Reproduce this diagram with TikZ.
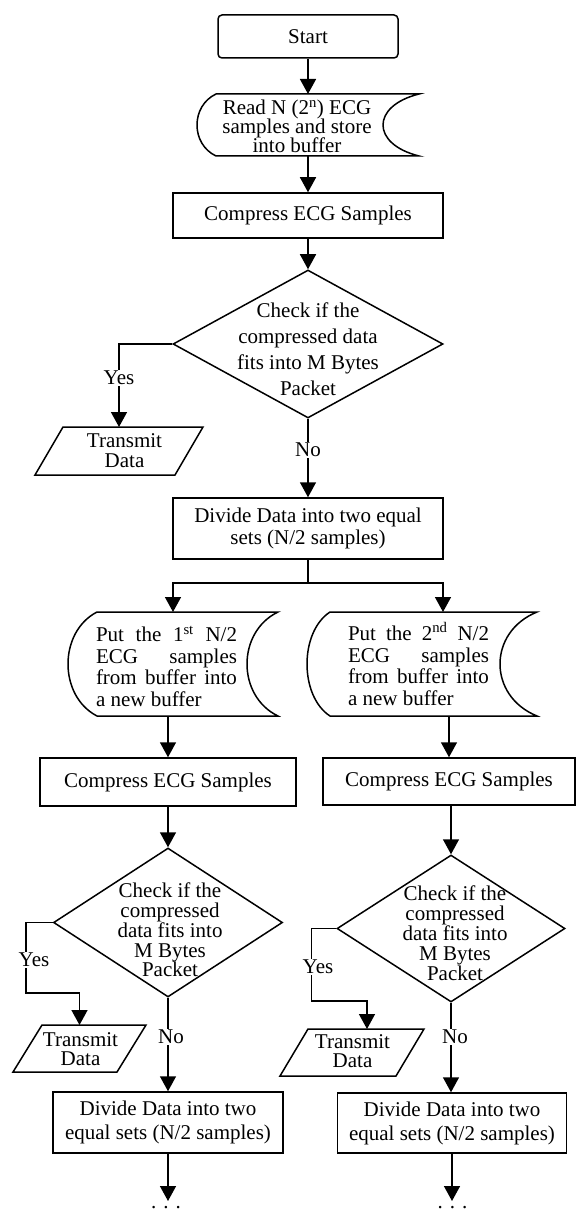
\documentclass[tikz,border=0pt]{standalone}
\usepackage{fontspec}
\setmainfont{Liberation Serif}
\usetikzlibrary{shapes.geometric,arrows.meta,calc}
\newcommand\tf[1]{\fontsize{21}{#1}\selectfont\lineskiplimit=-30pt\relax}
% stored-data outline around a ghost node: #1 name, #2 left bulge, #3 right concave depth, #4 corner slope
\newcommand\storedshape[4]{%
  \draw[ln] ($(#1.north west)+(#2,0)$) -- (#1.north east)
    .. controls ($(#1.north east)+({-4*#3/3},#4)$) and ($(#1.south east)+({-4*#3/3},-#4)$) .. (#1.south east)
    -- ($(#1.south west)+(#2,0)$)
    .. controls ($(#1.south west)+({-#2/3},-#4)$) and ($(#1.north west)+({-#2/3},#4)$) .. ($(#1.north west)+(#2,0)$)
    -- cycle;}
% parallelogram outline around a ghost node: #1 name, #2 slant
\newcommand\paraout[2]{%
  \draw[ln] ($(#1.north west)+(#2,0)$) -- (#1.north east) -- ($(#1.south east)+(-#2,0)$) -- (#1.south west) -- cycle;}
\tikzset{
  ln/.style={line width=1.5pt},
  arr/.style={line width=1.5pt,-{Triangle[width=16pt,length=15pt]}},
  box/.style={draw,line width=1.5pt,rectangle,inner sep=0pt,align=center,font=\tf{23}},
  ghost/.style={draw=none,inner sep=0pt,outer sep=0pt,rectangle},
  dia/.style={diamond,draw,line width=1.5pt,inner sep=0pt},
  txt/.style={inner sep=0pt,align=center,font=\tf{#1}},
  lbl/.style={inner sep=1pt,fill=white,font=\tf{23}},
}
\begin{document}
\begin{tikzpicture}[x=1pt,y=-1pt]
\useasboundingbox (0,0) rectangle (575,1214);

% ---------- top part ----------
\node[box,rounded corners=4pt,minimum width=180pt,minimum height=43pt] (start) at (308,36.5) {Start};

\node[ghost,minimum width=222pt,minimum height=62pt] (read) at (308,125) {};
\storedshape{read}{19}{36}{12}
\node[txt=19] (readt) at (297,126.5) {Read N (2\textsuperscript{n}) ECG\\samples and store\\into buffer};

\node[box,minimum width=270pt,minimum height=45pt] (c1) at (308,215.5) {Compress ECG Samples};

\node[dia,minimum width=270pt,minimum height=148pt] (d1) at (308,344) {};
\node[txt=26] (d1t) at (308,349) {Check if the\\compressed data\\fits into M Bytes\\Packet};

\node[ghost,minimum width=168pt,minimum height=48pt] (tr1) at (119,451) {};
\paraout{tr1}{28}
\node[txt=20] (tr1t) at (124.5,451) {Transmit\\Data};

\node[box,minimum width=270pt,minimum height=61pt,font=\tf{22.5}] (div1) at (308,528.5) {Divide Data into two equal\\sets (N/2 samples)};

\draw[arr] (start.south) -- (start.south |- read.north);
\draw[arr] (read.south) -- (c1.north);
\draw[arr] (c1.south) -- (d1.north);
\draw[arr] (d1.west) -| (tr1.north);
\node[lbl] (yes1) at (119,378) {Yes};
\draw[arr] (d1.south) -- (div1.north);
\node[lbl] (no1) at (308,450) {No};

% ---------- split ----------
\node[ghost,minimum width=210pt,minimum height=104pt] (put1) at (173,664) {};
\storedshape{put1}{29}{31}{20}
\node[inner sep=0pt,align=left,font=\tf{21.5}] (put1t) at (166.5,666)
  {\makebox[141pt][s]{Put the 1\textsuperscript{st} N/2}\\\makebox[141pt][s]{ECG samples}\\\makebox[141pt][s]{from buffer into}\\a new buffer};

\node[ghost,minimum width=230pt,minimum height=104pt] (put2) at (422,664) {};
\storedshape{put2}{23}{37}{20}
\node[inner sep=0pt,align=left,font=\tf{21.5}] (put2t) at (418.5,664)
  {\makebox[141pt][s]{Put the 2\textsuperscript{nd} N/2}\\\makebox[141pt][s]{ECG samples}\\\makebox[141pt][s]{from buffer into}\\a new buffer};

\draw[ln] (div1.south) -- ++(0,23) coordinate (j);
\draw[arr] (j) -| (put1.north);
\draw[arr] (j) -| ($(put2.north)+(21,0)$);

% ---------- left column ----------
\node[box,minimum width=256pt,minimum height=48pt] (c2) at (168,782) {Compress ECG Samples};
\draw[arr] (put1.south -| c2.north) -- (c2.north);

\node[dia,minimum width=229pt,minimum height=149pt] (d2) at (168,922.5) {};
\node[txt=19.8] (d2t) at (170,930) {Check if the\\compressed\\data fits into\\M Bytes\\Packet};
\draw[arr] (c2.south) -- (d2.north);

\node[ghost,minimum width=133pt,minimum height=47pt] (tr2) at (79.5,1048.5) {};
\paraout{tr2}{29}
\node[txt=19] (tr2t) at (80.5,1049) {Transmit\\Data};
\draw[arr] (d2.west) -- ++(-27,0) |- ($(tr2.north)+(0,-32)$) -- (tr2.north);
\node[lbl] (yes2) at (34,960) {Yes};

\node[box,minimum width=230pt,minimum height=61pt,font=\tf{24}] (div2) at (168,1122.5) {Divide Data into two\\equal sets (N/2 samples)};
\draw[arr] (d2.south) -- (div2.north);
\node[lbl] (no2) at (171,1037) {No};
\coordinate (e2) at (168,1201);
\draw[arr] (div2.south) -- (e2);
\node[anchor=base,inner sep=0pt,font=\tf{23}] (dots2) at (166,1208) {. . .};

% ---------- right column ----------
\node[box,minimum width=252pt,minimum height=47pt] (c3) at (449,781.5) {Compress ECG Samples};
\draw[arr] (put2.south -| c3.north) -- (c3.north);

\node[dia,minimum width=228pt,minimum height=147pt] (d3) at (451,928.5) {};
\node[txt=20] (d3t) at (455,933) {Check if the\\compressed\\data fits into\\M Bytes\\Packet};
\draw[arr] (d3.north |- c3.south) -- (d3.north);

\node[ghost,minimum width=144pt,minimum height=47pt] (tr3) at (352,1052.5) {};
\paraout{tr3}{28}
\node[txt=19] (tr3t) at (352.5,1051.5) {Transmit\\Data};
\draw[arr] (d3.west) -- ++(-25,0) |- ($(tr3.north)+(15,-28)$) -- ($(tr3.north)+(15,0)$);
\node[lbl] (yes3) at (318,967) {Yes};

\node[box,minimum width=229pt,minimum height=60pt,font=\tf{24}] (div3) at (452,1123) {Divide Data into two\\equal sets (N/2 samples)};
\draw[arr] (d3.south) -- (d3.south |- div3.north);
\node[lbl] (no3) at (455,1037) {No};
\coordinate (e3) at (452,1201);
\draw[arr] (div3.south) -- (e3);
\node[anchor=base,inner sep=0pt,font=\tf{23}] (dots3) at (452.5,1208) {. . .};
\end{tikzpicture}
\end{document}
